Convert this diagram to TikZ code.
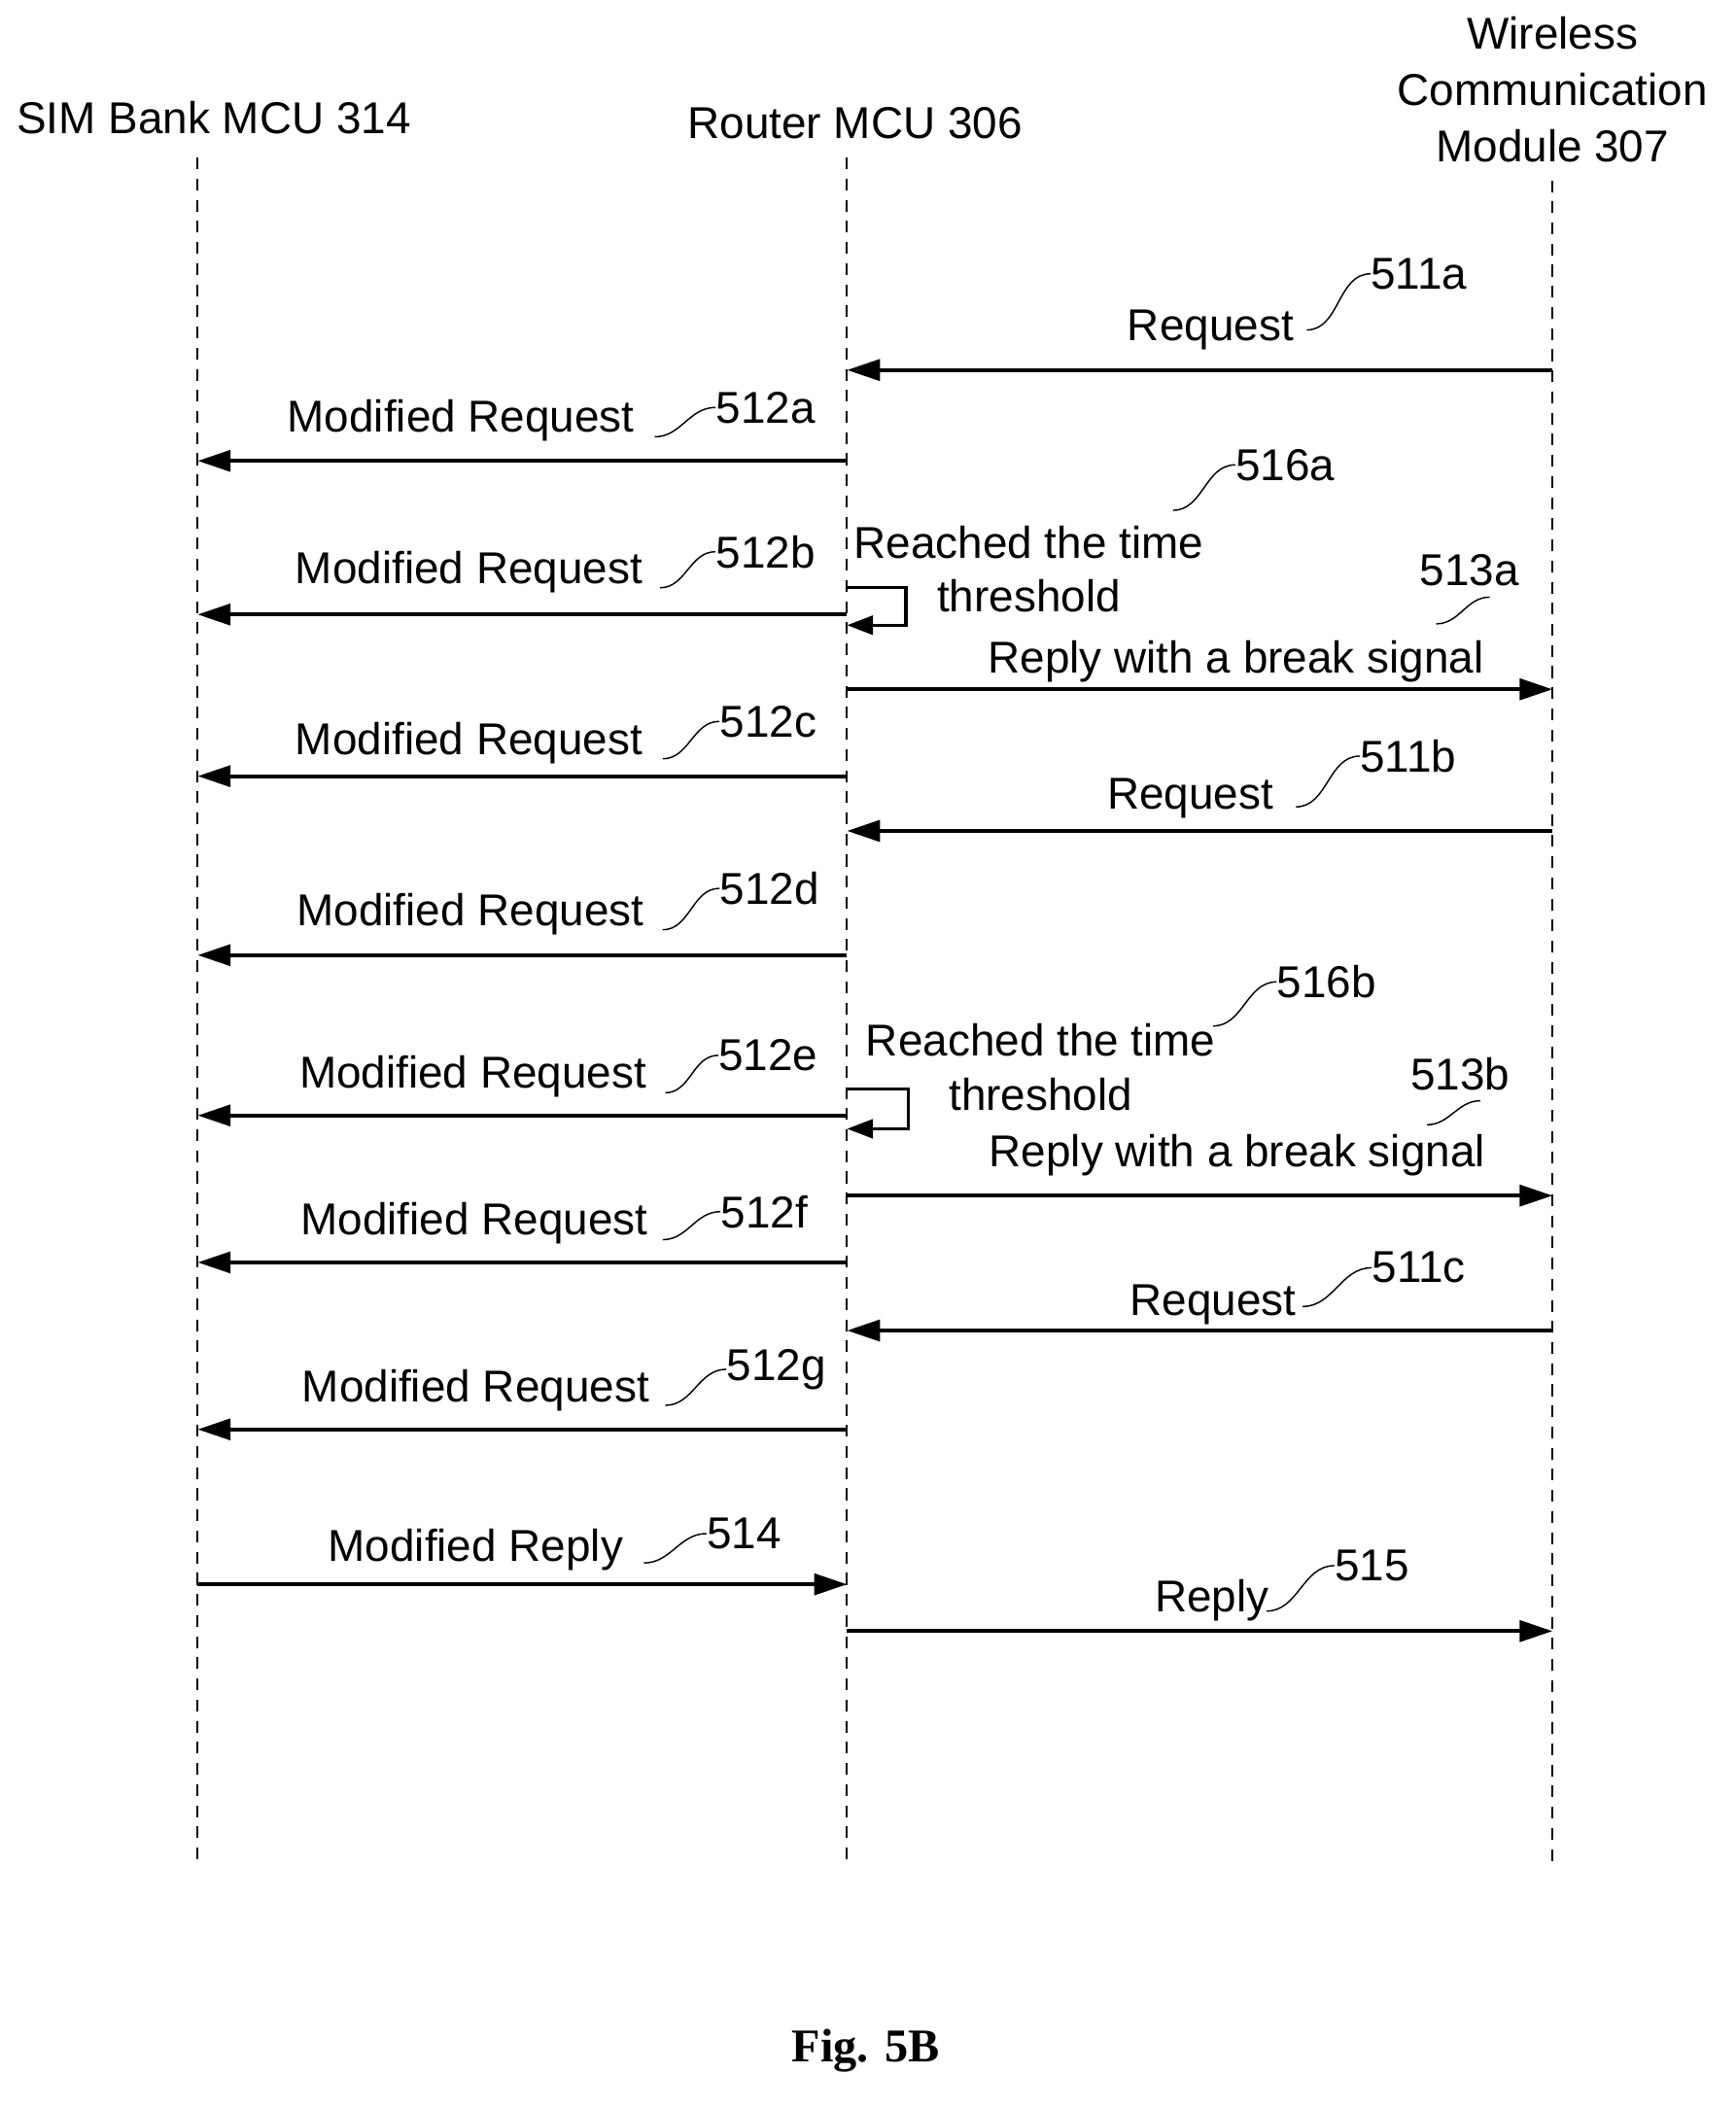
\documentclass[tikz,border=0pt]{standalone}
\usepackage{fontspec}
\setmainfont{Liberation Sans}
\newfontfamily\figfont{Liberation Serif}
\usetikzlibrary{arrows.meta}
\begin{document}
\begin{tikzpicture}[x=0.02cm,y=-0.02cm,
    txt/.style={font=\fontsize{19}{22}\selectfont,inner sep=0pt,align=center},
    life/.style={dashed,line width=0.8pt,dash pattern=on 5pt off 4pt},
    msg/.style={line width=1.6pt,-{Triangle[length=14pt,width=9pt]}},
    lead/.style={line width=0.6pt}]
    \useasboundingbox (0,0) rectangle (1299,1578);

    % lifelines
    \node[txt] (sim) at (160,88) {SIM Bank MCU 314};
    \node[txt] (rtr) at (640,92) {Router MCU 306};
    \node[txt,align=center] (wcm) at (1162,67) {Wireless\\[2pt]Communication\\[2pt]Module 307};
    \coordinate (S) at (148,118); \coordinate (Sb) at (148,1395);
    \coordinate (R) at (634,118); \coordinate (Rb) at (634,1395);
    \coordinate (W) at (1162,135); \coordinate (Wb) at (1162,1395);
    \draw[life] (S) -- (Sb);
    \draw[life] (R) -- (Rb);
    \draw[life] (W) -- (Wb);

    % end points on the lifelines
    \foreach \n/\y in {a/277,b/345,c/460,d/516,e/581,f/622,g/715,h/835,i/895,j/945,k/996,l/1070,m/1186,n/1221}
    {
        \coordinate (S\n) at (148,\y);
        \coordinate (R\n) at (634,\y);
        \coordinate (W\n) at (1162,\y);
    }

    % messages
    \draw[msg] (Wa) -- (Ra);
    \draw[msg] (Rb) -- (Sb);
    \draw[msg] (Rc) -- (Sc);
    \draw[msg] (Rd) -- (Wd);
    \draw[msg] (Re) -- (Se);
    \draw[msg] (Wf) -- (Rf);
    \draw[msg] (Rg) -- (Sg);
    \draw[msg] (Rh) -- (Sh);
    \draw[msg] (Ri) -- (Wi);
    \draw[msg] (Rj) -- (Sj);
    \draw[msg] (Wk) -- (Rk);
    \draw[msg] (Rl) -- (Sl);
    \draw[msg] (Sm) -- (Rm);
    \draw[msg] (Rn) -- (Wn);

    % time threshold loops
    \coordinate (L1) at (634,440); \coordinate (L1e) at (634,468);
    \coordinate (L2) at (634,815); \coordinate (L2e) at (634,845);
    \draw[msg,line width=1.4pt,-{Triangle[length=11pt,width=8pt]}] (L1) -| (678,468) -- (L1e);
    \draw[msg,line width=1.4pt,-{Triangle[length=11pt,width=8pt]}] (L2) -| (680,845) -- (L2e);

    % labels
    \node[txt] (la) at (906,247) {Request};
    \node[txt] (lb) at (345,315) {Modified Request};
    \node[txt] (lc) at (351,428) {Modified Request};
    \node[txt] (lt1) at (770,426) {Reached the time\\[1pt]threshold};
    \node[txt] (ld) at (925,495) {Reply with a break signal};
    \node[txt] (le) at (351,556) {Modified Request};
    \node[txt] (lf) at (891,598) {Request};
    \node[txt] (lg) at (352,684) {Modified Request};
    \node[txt] (lt2) at (779,799) {Reached the time\\[1pt]threshold};
    \node[txt] (lh) at (354,806) {Modified Request};
    \node[txt] (li) at (926,865) {Reply with a break signal};
    \node[txt] (lj) at (355,916) {Modified Request};
    \node[txt] (lk) at (908,977) {Request};
    \node[txt] (ll) at (356,1041) {Modified Request};
    \node[txt] (lm) at (356,1160) {Modified Reply};
    \node[txt] (ln) at (907,1198) {Reply};

    % reference numbers
    \node[txt] (na) at (1062,205) {511a};
    \node[txt] (nb) at (573,305) {512a};
    \node[txt] (nc) at (573,413) {512b};
    \node[txt] (nt1) at (962,348) {516a};
    \node[txt] (nd) at (1100,427) {513a};
    \node[txt] (ne) at (575,540) {512c};
    \node[txt] (nf) at (1054,566) {511b};
    \node[txt] (ng) at (576,665) {512d};
    \node[txt] (nt2) at (993,735) {516b};
    \node[txt] (nh) at (575,790) {512e};
    \node[txt] (ni) at (1093,804) {513b};
    \node[txt] (nj) at (572,907) {512f};
    \node[txt] (nk) at (1062,949) {511c};
    \node[txt] (nl) at (581,1025) {512g};
    \node[txt] (nm) at (557,1148) {514};
    \node[txt] (nn) at (1027,1172) {515};

    % leader lines
    \draw[lead] (978,247) to[out=0,in=180] (na.west);
    \draw[lead] (490,327) to[out=0,in=180] (nb.west);
    \draw[lead] (494,440) to[out=0,in=180] (nc.west);
    \draw[lead] (878,382) to[out=0,in=180] (nt1.west);
    \draw[lead] (1075,467) to[out=0,in=180] (1115,447);
    \draw[lead] (496,568) to[out=0,in=180] (ne.west);
    \draw[lead] (970,604) to[out=0,in=180] (nf.west);
    \draw[lead] (496,696) to[out=0,in=180] (ng.west);
    \draw[lead] (908,768) to[out=0,in=180] (nt2.west);
    \draw[lead] (498,818) to[out=0,in=180] (nh.west);
    \draw[lead] (1068,842) to[out=0,in=180] (1108,824);
    \draw[lead] (496,928) to[out=0,in=180] (nj.west);
    \draw[lead] (975,978) to[out=0,in=180] (nk.west);
    \draw[lead] (498,1052) to[out=0,in=180] (nl.west);
    \draw[lead] (482,1170) to[out=0,in=180] (nm.west);
    \draw[lead] (948,1206) to[out=0,in=180] (nn.west);

    \node[font=\figfont\bfseries\fontsize{20}{24}\selectfont] (fig) at (648,1535) {Fig. 5B};
\end{tikzpicture}
\end{document}
